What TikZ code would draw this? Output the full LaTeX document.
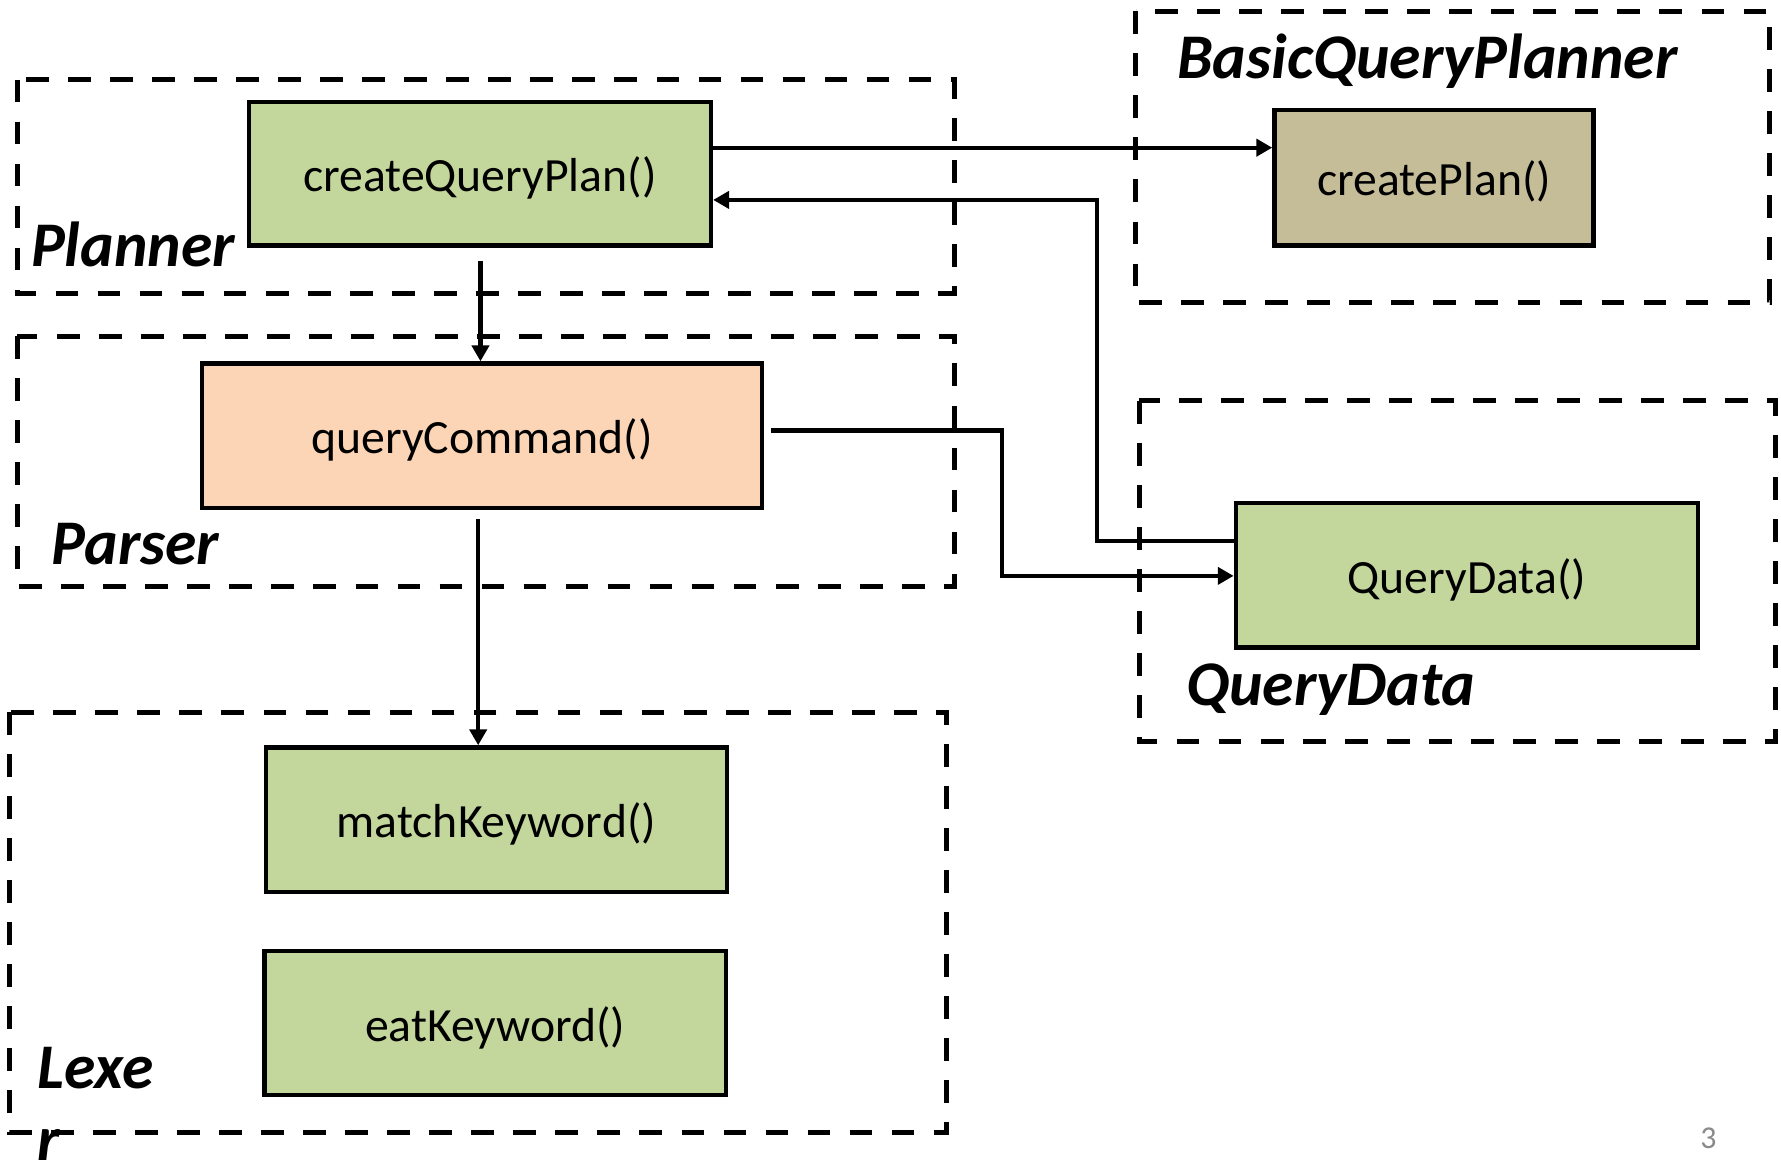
\documentclass[tikz,border=0pt]{standalone}
\usepackage{fontspec}
\setmainfont{Carlito}
\usetikzlibrary{arrows.meta,calc}
\definecolor{fgreen}{HTML}{C3D69B}
\definecolor{ftan}{HTML}{C4BD97}
\definecolor{fpeach}{HTML}{FBD5B5}
\definecolor{pgnum}{HTML}{8A8A8A}
\begin{document}
\begin{tikzpicture}[x=0.5pt,y=-0.5pt,
  func/.style 2 args={draw=black, line width=1.9pt, inner sep=0pt,
    minimum width={#1*0.5pt}, minimum height={#2*0.5pt},
    text height=20pt, text depth=4pt,
    font=\fontsize{21pt}{25pt}\selectfont},
  grp/.style={draw=black, line width=2.2pt, dash pattern=on 10pt off 8.5pt},
  lab/.style={inner sep=0pt, anchor=base west,
    font=\fontsize{28pt}{32pt}\selectfont\bfseries\itshape},
  arr/.style={draw=black, line width=1.8pt,
    -{Triangle[length=7pt,width=7.5pt]}},
  ln/.style={draw=black, line width=1.8pt}]
\useasboundingbox (0,0) rectangle (1568,1025);
\fill[white] (0,0) rectangle (1568,1025);

% group boxes
\draw[grp] (15,70) rectangle (840,258);
\draw[grp] (15,296) rectangle (840,516);
\draw[grp] (8,627) rectangle (833,997);
\draw[grp] (1000,10) rectangle (1558,266);
\draw[grp] (1003,353) rectangle (1563,653);

% function boxes
\node[func={407}{126}, fill=fgreen] (cqp) at (422.5,153) {createQueryPlan()};
\node[func={281}{119}, fill=ftan] (cp) at (1262.5,156.5) {createPlan()};
\node[func={493}{127}, fill=fpeach] (qc) at (424.5,383.5) {queryCommand()};
\node[func={407}{127}, fill=fgreen] (qd) at (1291.5,506.5) {QueryData()};
\node[func={406}{127}, fill=fgreen] (mk) at (437,721.5) {matchKeyword()};
\node[func={406}{127}, fill=fgreen] (ek) at (436,900.5) {eatKeyword()};

% group labels
\node[lab] (lplanner) at (27,235) {Planner};
\node[lab] (lparser) at (45,497) {Parser};
\node[lab] (lbqp) at (1036,69) {BasicQueryPlanner};
\node[lab] (lqd) at (1044,621) {QueryData};
\node[lab] (llexe) at (33,958) {Lexe};
\node[lab] (llexr) at (33,1022) {r};

% page number
\node[inner sep=0pt, anchor=base, text=pgnum, font=\fontsize{14pt}{16pt}\selectfont] (pnum) at (1504,1011) {3};

% connectors
\draw[arr] ($(cqp.east)+(0,-23)$) -- ($(cp.west)+(0,-26.5)$);
\coordinate (qdout) at ($(qd.west)+(0,-30.5)$);
\draw[arr] (qdout) -- (966,476) -- (966,176) -- ($(cqp.east)+(0,23)$);
\coordinate (qcout) at ($(qc.east)+(6,-4.5)$);
\draw[arr] (qcout) -- (882,379) -- (882,507) -- ($(qd.west)+(0,0.5)$);
\coordinate (cqpout) at ($(cqp.south)+(0.5,12)$);
\draw[arr] (cqpout) -- (cqpout |- qc.north);
\coordinate (qcdown) at ($(qc.south)+(-3.5,8)$);
\draw[arr] (qcdown) -- (qcdown |- mk.north);
\end{tikzpicture}
\end{document}
